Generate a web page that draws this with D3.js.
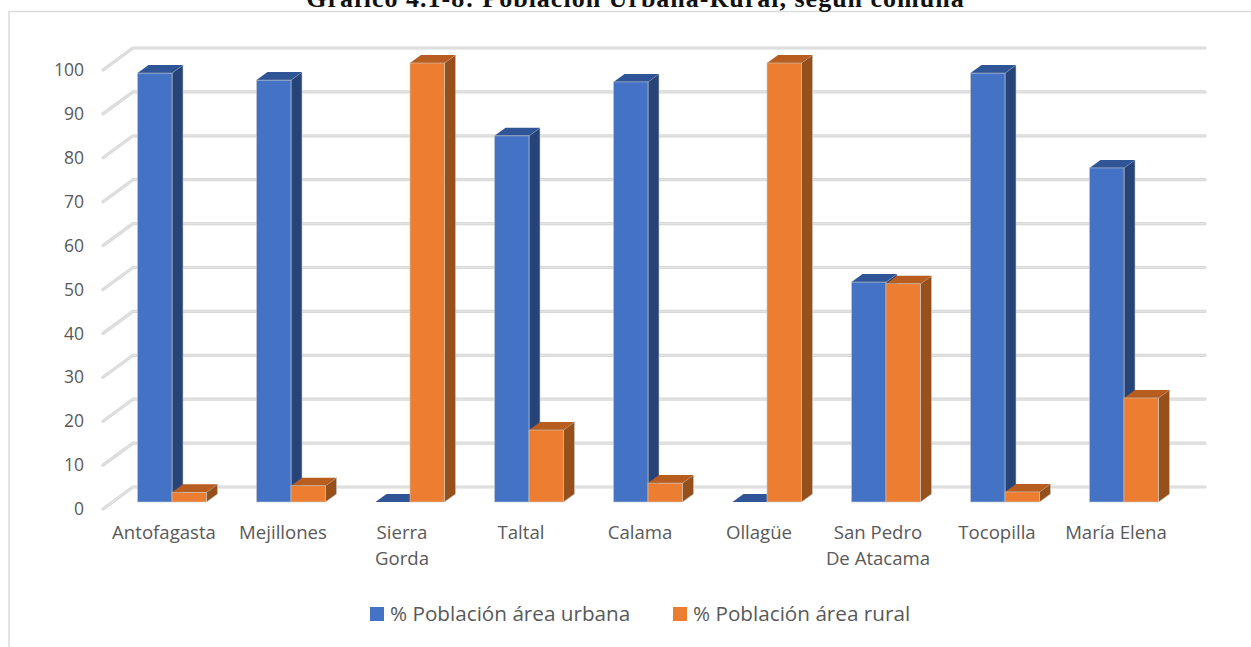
<!DOCTYPE html>
<html>
<head>
<meta charset="utf-8">
<script src="https://cdn.jsdelivr.net/npm/d3@7"></script>
<style>
  html, body { margin: 0; padding: 0; background: #fff; overflow: hidden; }
  svg { display: block; }
  text { font-family: "Open Sans", sans-serif; }
</style>
</head>
<body>
<svg width="1251" height="647"></svg>
<script>
var titleText = "Gráfico 4.1-8: Población Urbana-Rural, según comuna";
var categories = ["Antofagasta", "Mejillones", "Sierra Gorda", "Taltal", "Calama", "Ollagüe", "San Pedro De Atacama", "Tocopilla", "María Elena"];
var categoryLines = [["Antofagasta"], ["Mejillones"], ["Sierra", "Gorda"], ["Taltal"], ["Calama"], ["Ollagüe"], ["San Pedro", "De Atacama"], ["Tocopilla"], ["María Elena"]];
var urbana = [97.7, 96.1, 0, 83.4, 95.7, 0, 50.1, 97.7, 76.1];
var rural = [2.2, 3.7, 100, 16.4, 4.3, 100, 49.7, 2.3, 23.7];
var seriesNames = ["% Población área urbana", "% Población área rural"];
var yTicks = [0, 10, 20, 30, 40, 50, 60, 70, 80, 90, 100];

var svg = d3.select("svg");

var faces = [
  { front: "#4472c4", top: "#2f5597", side: "#264478" },
  { front: "#ed7d31", top: "#b65d1f", side: "#95501b" }
];

// the bars stand on the front plane, the grid sits further back
var y = d3.scaleLinear().domain([0, 100]).range([502, 63]);
var x = d3.scaleBand().domain(categories).range([112.5, 1183.5]);
var x1 = d3.scaleBand().domain(seriesNames).range([25, 94]);

var barDx = 11, barDy = -8;
var wallLeft = 133, wallRight = 1205, wallDy = -15, floorDx = -30, floorDy = 22;

// frame, open at the bottom
svg.append("path")
  .attr("d", "M9,647V11.5H1251")
  .attr("fill", "none")
  .attr("stroke", "#dcdcdc")
  .attr("stroke-width", 1.6);

svg.append("text")
  .attr("x", 635.5)
  .attr("y", 7)
  .attr("text-anchor", "middle")
  .attr("font-size", "26px")
  .attr("font-weight", "bold")
  .attr("letter-spacing", "1px")
  .style("font-family", "'Liberation Serif', serif")
  .attr("fill", "#111")
  .text(titleText);

// gridlines
var grid = svg.append("g")
  .attr("fill", "none")
  .attr("stroke-linejoin", "round")
  .attr("stroke-linecap", "round");

function gridPath(d) {
  var gy = y(d) + wallDy;
  return d3.line()([[wallLeft + floorDx, gy + floorDy], [wallLeft, gy], [wallRight, gy]]);
}

grid.selectAll("path.outer")
  .data(yTicks)
  .enter().append("path")
    .attr("class", "outer")
    .attr("d", gridPath)
    .attr("stroke", "#d8d8d8")
    .attr("stroke-width", 3.2);

grid.selectAll("path.inner")
  .data(yTicks)
  .enter().append("path")
    .attr("class", "inner")
    .attr("d", gridPath)
    .attr("stroke", "#e6e6e6")
    .attr("stroke-width", 1);

// bars, drawn left to right so the next front face covers the side face
var rows = [];
categories.forEach(function(c, i) {
  rows.push({ cat: c, name: seriesNames[0], value: urbana[i], face: faces[0] });
  rows.push({ cat: c, name: seriesNames[1], value: rural[i], face: faces[1] });
});

var bars = svg.append("g").selectAll("g")
  .data(rows)
  .enter().append("g")
    .attr("transform", function(d) { return "translate(" + (x(d.cat) + x1(d.name)) + ",0)"; });

var w = x1.bandwidth();

bars.append("path")
  .attr("fill", function(d) { return d.face.side; })
  .attr("stroke", "#c8c8c8")
  .attr("stroke-width", 0.6)
  .attr("d", function(d) {
    var t = y(d.value), b = y(0);
    return d3.line()([[w, t], [w + barDx, t + barDy], [w + barDx, b + barDy], [w, b]]) + "Z";
  });

bars.append("path")
  .attr("fill", function(d) { return d.face.top; })
  .attr("d", function(d) {
    var t = y(d.value);
    return d3.line()([[0, t], [barDx, t + barDy], [w + barDx, t + barDy], [w, t]]) + "Z";
  });

bars.append("rect")
  .attr("fill", function(d) { return d.face.front; })
  .attr("stroke", "#c8c8c8")
  .attr("stroke-width", 0.6)
  .attr("width", w)
  .attr("y", function(d) { return y(d.value); })
  .attr("height", function(d) { return y(0) - y(d.value); });

// axes
var axisY = svg.append("g")
  .attr("transform", "translate(84,7)")
  .call(d3.axisLeft(y).tickValues(yTicks).tickSize(0).tickPadding(0));
axisY.select(".domain").remove();
axisY.selectAll("text")
  .attr("fill", "#595959")
  .style("font-size", "17.5px");

var axisX = svg.append("g")
  .attr("transform", "translate(-8,522)")
  .call(d3.axisBottom(x).tickSize(0).tickPadding(0).tickFormat(""));
axisX.select(".domain").remove();
axisX.selectAll(".tick text")
  .attr("fill", "#595959")
  .attr("dy", null)
  .attr("y", null)
  .style("font-size", "18.6px")
  .each(function(d, i) {
    var t = d3.select(this);
    categoryLines[i].forEach(function(line, k) {
      t.append("tspan")
        .attr("x", 0)
        .attr("y", 17 + k * 26)
        .text(line);
    });
  });

// legend
var legendX = d3.scaleOrdinal().domain(seriesNames).range([370, 673]);
var legend = svg.append("g").selectAll("g")
  .data(seriesNames)
  .enter().append("g")
    .attr("transform", function(d) { return "translate(" + legendX(d) + ",607)"; });

legend.append("rect")
  .attr("width", 14)
  .attr("height", 14)
  .attr("fill", function(d, i) { return faces[i].front; });

legend.append("text")
  .attr("x", 20)
  .attr("y", 14)
  .attr("font-size", "20.7px")
  .attr("fill", "#595959")
  .text(function(d) { return d; });
</script>
</body>
</html>
